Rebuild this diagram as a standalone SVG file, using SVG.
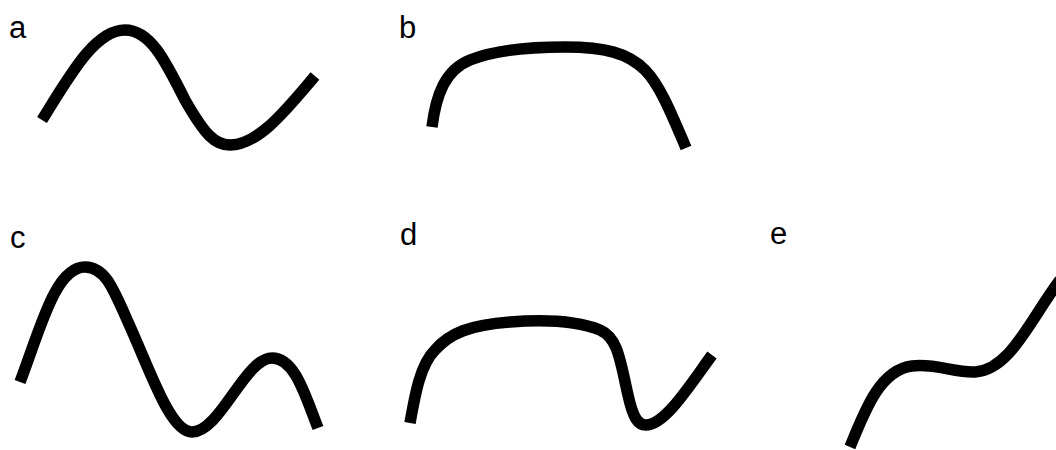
<svg xmlns="http://www.w3.org/2000/svg" width="1056" height="450" viewBox="0 0 1056 450">
<style>
.curve{fill:none;stroke:#000;stroke-width:11.5;stroke-linecap:butt;stroke-linejoin:round}
.lbl{font-family:"Liberation Sans",Arial,sans-serif;font-size:31px;fill:#000}
</style>
<rect width="1056" height="450" fill="#fff"/>
<g id="panel-a">
<text class="lbl" x="9" y="38">a</text>
<path class="curve" d="M42,120 C70,75 95,30 125,30 C150,30 165,60 185,100 C205,135 215,145 230,145 C260,145 290,105 315,76"/>
</g>
<g id="panel-b">
<text class="lbl" x="399" y="38">b</text>
<path class="curve" d="M432,127 C436,95 445,70 470,60 C495,50 530,47 565,47 C605,47 628,53 645,70 C660,85 672,115 686,148"/>
</g>
<g id="panel-c">
<text class="lbl" x="10" y="248">c</text>
<path class="curve" d="M20,382 C40,330 55,267 85,267 C105,267 113,288 128,322 C150,370 170,432 192,432 C220,432 245,358 272,358 C295,358 305,395 318,428"/>
</g>
<g id="panel-d">
<text class="lbl" x="400" y="245">d</text>
<path class="curve" d="M410,423 C415,395 420,365 435,350 C450,333 470,325 510,322 C550,319 580,322 600,330 C618,338 620,360 628,395 C633,418 638,425 646,425 C665,425 690,385 712,355"/>
</g>
<g id="panel-e">
<text class="lbl" x="770" y="244">e</text>
<path class="curve" d="M850,447 C865,410 880,370 912,366 C935,363 955,373 975,372 C1010,370 1030,320 1060,280"/>
</g>
</svg>
